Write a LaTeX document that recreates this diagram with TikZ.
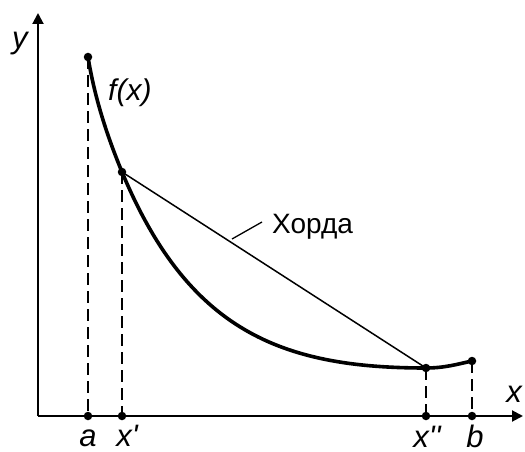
\documentclass[tikz,border=0pt]{standalone}
\usepackage{fontspec}
\setmainfont{Liberation Sans}
\usetikzlibrary{arrows.meta}
\begin{document}
\begin{tikzpicture}[x=1pt,y=-1pt,
  axis/.style={line width=2pt,-{Triangle[length=11pt,width=11pt]}},
  fcurve/.style={line width=3.6pt,line join=round},
  chord/.style={line width=1.5pt},
  guide/.style={line width=1.6pt,dash pattern=on 12pt off 6pt},
  dot/.style={circle,fill,inner sep=0pt,minimum size=8.5pt},
  lbl/.style={font=\fontsize{31}{31}\selectfont\itshape,inner sep=0pt,anchor=base},
  smalllbl/.style={font=\fontsize{30}{30}\selectfont\itshape,inner sep=0pt,anchor=base west},
  txt/.style={font=\fontsize{28}{28}\selectfont,inner sep=0pt,anchor=base west},
]
\useasboundingbox (0,0) rectangle (525,452);
% origin and axis ends
\coordinate (O) at (38,416);
\coordinate (Xend) at (523,416);
\coordinate (Yend) at (38,13);
\draw[axis] (O) -- (Xend);
\draw[axis] (O) -- (Yend);
% points on curve
\node[dot] (A) at (88,57) {};
\node[dot] (P1) at (122,172) {};
\node[dot] (P2) at (426,368) {};
\node[dot] (B) at (472,361) {};
% points on axis
\node[dot] (Aa) at (88,416) {};
\node[dot] (P1a) at (122,416) {};
\node[dot] (P2a) at (426,416) {};
\node[dot] (Ba) at (472,416) {};
% dashed guides
\draw[guide] (A.center) -- (Aa.center);
\draw[guide] (P1.center) -- (P1a.center);
\draw[guide] (P2.center) -- (P2a.center);
\draw[guide] (B.center) -- (Ba.center);
% curve
\draw[fcurve] (A.center) .. controls (95,100) and (108,138) .. (P1.center)
  .. controls (188,330) and (280,368) .. (P2.center)
  .. controls (445,368) and (458,364) .. (B.center);
% chord
\draw[chord] (P1.center) -- (P2.center);
% label leader
\coordinate (L1) at (232,239);
\coordinate (L2) at (262,222);
\draw[line width=1.3pt] (L1) -- (L2);
\node[txt] (hord) at (272,233) {Хорда};
% labels
\node[lbl] (ylbl) at (20,49) {y};
\node[smalllbl] (flbl) at (108,100) {f(x)};
\node[lbl] (xlbl) at (514,402) {x};
\node[lbl] (albl) at (88,446) {a};
\node[lbl] (x1lbl) at (127,446) {x\textquotesingle};
\node[lbl] (x2lbl) at (427,447) {x\textquotesingle\textquotesingle};
\node[lbl] (blbl) at (475,447) {b};
\end{tikzpicture}
\end{document}
